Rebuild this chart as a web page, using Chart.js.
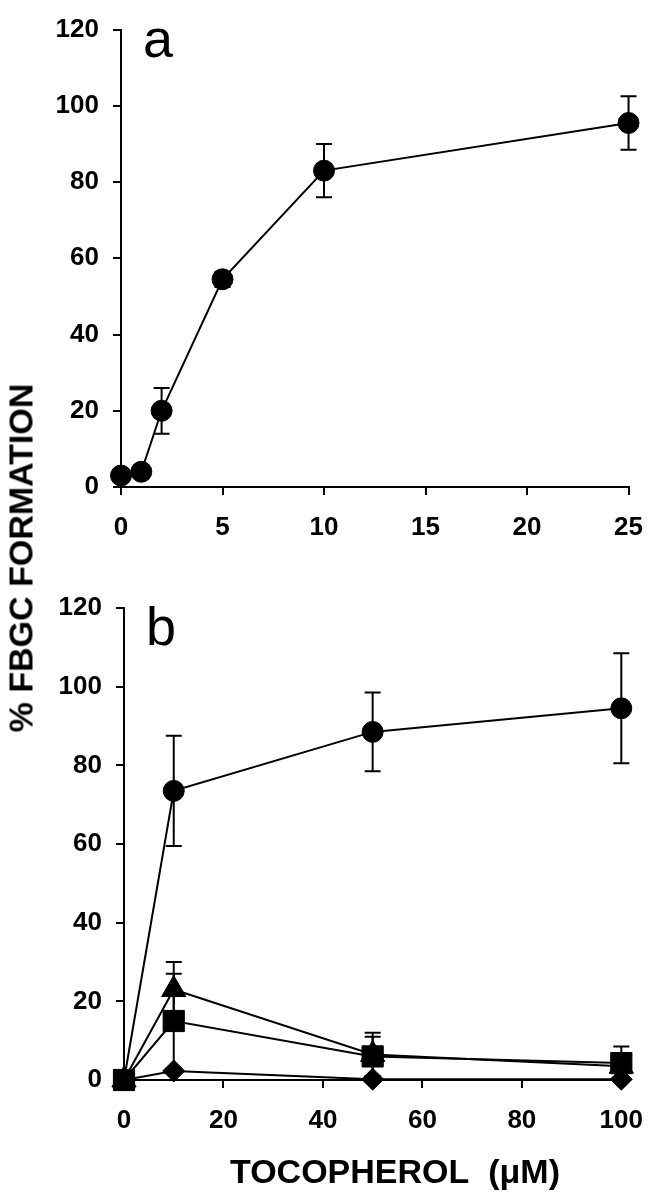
<!DOCTYPE html>
<html>
<head>
<meta charset="utf-8">
<script src="https://cdn.jsdelivr.net/npm/chart.js@4.4.0/dist/chart.umd.min.js"></script>
<style>
  html, body { margin: 0; padding: 0; background: #fff; }
  body { width: 660px; height: 1199px; position: relative; overflow: hidden; font-family: 'Liberation Sans', Arial, sans-serif; color: #000; }
  canvas { position: absolute; left: 0; }
  #chartA { top: 0; }
  #chartB { top: 560px; }
  .panel { position: absolute; font-size: 54px; line-height: 1; }
  #ytitle { position: absolute; left: 21px; top: 558px; transform: translate(-50%, -50%) rotate(-90deg); font-weight: bold; font-size: 34px; white-space: nowrap; }
  #xtitle { position: absolute; left: 395px; top: 1171px; transform: translate(-50%, -50%); font-weight: bold; font-size: 34px; white-space: nowrap; }
</style>
</head>
<body>
<canvas id="chartA" width="660" height="560"></canvas>
<canvas id="chartB" width="660" height="639"></canvas>
<div class="panel" style="left:143px; top:11px;">a</div>
<div class="panel" style="left:146px; top:599px;">b</div>
<div id="ytitle">% FBGC FORMATION</div>
<div id="xtitle">TOCOPHEROL&nbsp;&nbsp;(μM)</div>
<script>
// panel a
const doseA = [0, 1, 2, 5, 10, 25];
const fbgcA = [3, 4, 20, 54.5, 83, 95.5];
const errA = [0, 0, 6, 2, 7, 7];

// panel b
const doseB = [0, 10, 50, 100];
const circleB = [0, 73.5, 88.5, 94.5];
const circleErrB = [0, 14, 10, 14];
const triangleB = [0, 23, 6.5, 3.5];
const triangleErrB = [0, 7, 5.5, 0];
const squareB = [0, 15, 6, 4.3];
const squareErrB = [0, 12, 5, 4.2];
const diamondB = [0, 2.3, 0.2, 0.2];

const yTicks = [0, 20, 40, 60, 80, 100, 120];

const tickFont = { family: "'Liberation Sans', Arial, sans-serif", size: 26, weight: 'bold' };

function points(xs, ys) {
  return xs.map((x, i) => ({ x: x, y: ys[i] }));
}

// vertical error bars with caps, under the markers
const errorBars = {
  id: 'errorBars',
  beforeDatasetsDraw(chart) {
    const { ctx, scales: { x, y } } = chart;
    ctx.save();
    ctx.strokeStyle = '#000';
    ctx.lineWidth = 2;
    chart.data.datasets.forEach(ds => {
      if (!ds.errors) return;
      ds.data.forEach((p, i) => {
        const e = ds.errors[i];
        if (!e) return;
        const px = x.getPixelForValue(p.x);
        const top = y.getPixelForValue(p.y + e);
        const bot = y.getPixelForValue(p.y - e);
        ctx.beginPath();
        ctx.moveTo(px, top); ctx.lineTo(px, bot);
        ctx.moveTo(px - 8, top); ctx.lineTo(px + 8, top);
        ctx.moveTo(px - 8, bot); ctx.lineTo(px + 8, bot);
        ctx.stroke();
      });
    });
    ctx.restore();
  }
};

function series(data, style, radius, errors) {
  return {
    data: data,
    errors: errors,
    borderColor: '#000',
    borderWidth: 2,
    pointStyle: style,
    pointRadius: radius,
    pointBackgroundColor: '#000',
    pointBorderColor: '#000',
    pointBorderWidth: 1,
    tension: 0,
    clip: false
  };
}

function axisOpts(min, max, step, fixedSize, horizontal) {
  return {
    type: 'linear',
    min: min,
    max: max,
    ticks: {
      stepSize: step,
      color: '#000',
      font: tickFont,
      padding: horizontal ? 17 : 14,
      maxRotation: 0
    },
    grid: { drawOnChartArea: false, drawTicks: true, tickLength: 8, color: '#000', lineWidth: 2 },
    border: { display: true, color: '#000', width: 2 },
    afterFit: s => { if (horizontal) s.height = fixedSize; else s.width = fixedSize; },
    afterBuildTicks: s => { if (!horizontal) s.ticks = yTicks.map(v => ({ value: v })); }
  };
}

function makeChart(id, datasets, xMax, xStep, pad, yWidth, xHeight) {
  new Chart(document.getElementById(id), {
    type: 'line',
    data: { datasets: datasets },
    options: {
      responsive: false,
      animation: false,
      layout: { padding: pad },
      plugins: { legend: { display: false }, tooltip: { enabled: false } },
      scales: {
        x: axisOpts(0, xMax, xStep, xHeight, true),
        y: axisOpts(0, 120, 20, yWidth, false)
      }
    },
    plugins: [errorBars]
  });
}

makeChart('chartA',
  [series(points(doseA, fbgcA), 'circle', 10.5, errA)],
  25, 5, { top: 17, right: 24, left: 0, bottom: 0 }, 121, 73);

makeChart('chartB', [
  series(points(doseB, squareB), 'rect', 15, squareErrB),
  series(points(doseB, circleB), 'circle', 10.5, circleErrB),
  series(points(doseB, triangleB), 'triangle', 14, triangleErrB),
  series(points(doseB, diamondB), 'rectRot', 11, null)
], 100, 20, { top: 48, right: 27, left: 0, bottom: 0 }, 124, 119);
</script>
</body>
</html>
